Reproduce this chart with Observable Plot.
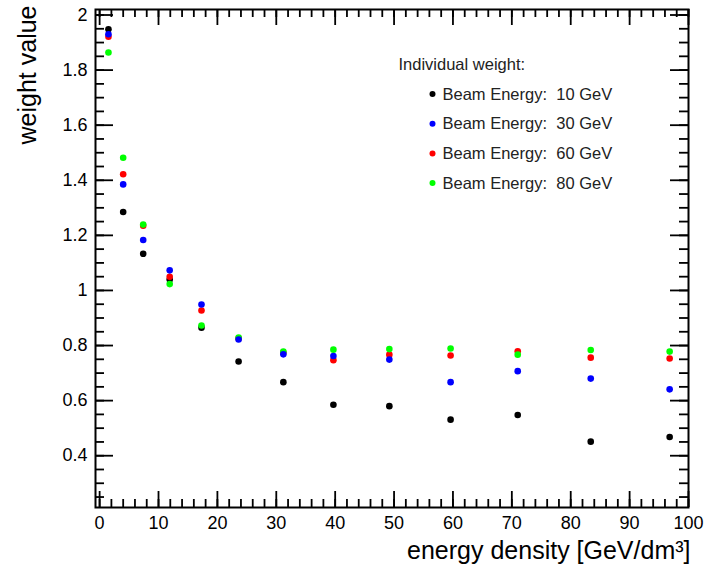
<!DOCTYPE html>
<html><head><meta charset="utf-8">
<script src="https://cdn.jsdelivr.net/npm/d3@7"></script>
<script src="https://cdn.jsdelivr.net/npm/@observablehq/plot@0.6"></script>
<style>
body{margin:0;background:#fff;}
</style></head><body><div id="chart"></div>
<script>
const energyDensity = [1.5, 4.0, 7.4, 11.9, 17.3, 23.6, 31.2, 39.7, 49.2, 59.6, 71.0, 83.4, 96.8];
const weight10 = [1.948, 1.285, 1.133, 1.040, 0.865, 0.742, 0.667, 0.585, 0.580, 0.531, 0.548, 0.451, 0.468];
const weight30 = [1.930, 1.385, 1.183, 1.073, 0.949, 0.822, 0.768, 0.762, 0.749, 0.667, 0.707, 0.680, 0.641];
const weight60 = [1.921, 1.422, 1.235, 1.050, 0.927, 0.826, 0.775, 0.747, 0.767, 0.764, 0.779, 0.756, 0.753];
const weight80 = [1.864, 1.482, 1.239, 1.023, 0.873, 0.829, 0.778, 0.785, 0.787, 0.789, 0.767, 0.784, 0.778];
const beamEnergies = ["10", "30", "60", "80"];
const seriesColors = ["#000000", "#0000ff", "#ff0000", "#00ff00"];
const seriesValues = [weight10, weight30, weight60, weight80];
const drawOrder = [0, 2, 3, 1];
const xMajor = [0, 10, 20, 30, 40, 50, 60, 70, 80, 90, 100];
const xMinor = d3.range(0, 100.01, 2);
const yMajor = [0.4, 0.6, 0.8, 1.0, 1.2, 1.4, 1.6, 1.8, 2.0];
const yMinor = d3.range(0.25, 2.001, 0.05);
const legendTitle = "Individual weight:";
const xTitle = "energy density [GeV/dm\u00b3]";
const yTitle = "weight value";

const W = 713, H = 564, mL = 95, mR = 25, mT = 9, mB = 57;
const innerW = W - mL - mR, innerH = H - mT - mB;
const majorLen = 16, minorLen = 8, tickW = 1.8;

const rows = s => energyDensity.map((x, i) => ({x, y: seriesValues[s][i]}));

const tickMarks = [
  Plot.ruleX(xMajor, {x: d => d, insetTop: innerH - majorLen, stroke: "black", strokeWidth: tickW}),
  Plot.ruleX(xMinor, {x: d => d, insetTop: innerH - minorLen, stroke: "black", strokeWidth: tickW}),
  Plot.ruleX(xMajor, {x: d => d, insetBottom: innerH - majorLen, stroke: "black", strokeWidth: tickW}),
  Plot.ruleX(xMinor, {x: d => d, insetBottom: innerH - minorLen, stroke: "black", strokeWidth: tickW}),
  Plot.ruleY(yMajor, {y: d => d, insetRight: innerW - majorLen - 2, stroke: "black", strokeWidth: tickW}),
  Plot.ruleY(yMinor, {y: d => d, insetRight: innerW - minorLen - 1, stroke: "black", strokeWidth: tickW}),
  Plot.ruleY(yMajor, {y: d => d, insetLeft: innerW - majorLen - 2, stroke: "black", strokeWidth: tickW}),
  Plot.ruleY(yMinor, {y: d => d, insetLeft: innerW - minorLen - 1, stroke: "black", strokeWidth: tickW})
];

const legendMarks = [
  Plot.text([legendTitle], {text: d => d, frameAnchor: "top-left", textAnchor: "start", lineAnchor: "bottom", dx: 303, dy: 60.5, fontSize: 16.5, fill: "#222"})
];
beamEnergies.forEach((e, i) => {
  legendMarks.push(Plot.dot([e], {frameAnchor: "top-left", dx: 337, dy: 84.5 + i * 29.7, r: 3, fill: seriesColors[i]}));
  legendMarks.push(Plot.text([`Beam Energy:\u00a0 ${e} GeV`], {text: d => d, frameAnchor: "top-left", textAnchor: "start", lineAnchor: "bottom", dx: 347, dy: 90 + i * 29.7, fontSize: 16.5, fill: "#222"}));
});

const chart = Plot.plot({
  width: W, height: H,
  marginLeft: mL, marginRight: mR, marginTop: mT, marginBottom: mB,
  x: {domain: [-0.7, 100]},
  y: {domain: [0.212, 2.02]},
  style: {fontFamily: "'Liberation Sans', Arial, sans-serif", background: "white", color: "black"},
  marks: [
    ...drawOrder.map(s => Plot.dot(rows(s), {x: "x", y: "y", r: 3.3, fill: seriesColors[s], stroke: null})),
    ...tickMarks,
    Plot.frame({stroke: "black", strokeWidth: 2}),
    Plot.axisX({ticks: xMajor, tickSize: 0, tickPadding: 9, fontSize: 18, label: null, tickFormat: d => `${+d.toFixed(2)}`}),
    Plot.axisY({ticks: yMajor, tickSize: 0, tickPadding: 8, fontSize: 18, label: null, tickFormat: d => `${+d.toFixed(2)}`}),
    Plot.text([xTitle], {text: d => d, frameAnchor: "bottom-right", textAnchor: "end", lineAnchor: "bottom", dx: 2, dy: 51, fontSize: 25}),
    Plot.text([yTitle], {text: d => d, frameAnchor: "top-left", rotate: -90, textAnchor: "end", lineAnchor: "bottom", dx: -60, dy: -4, fontSize: 25}),
    ...legendMarks
  ]
});
document.getElementById("chart").append(chart);
</script></body></html>
